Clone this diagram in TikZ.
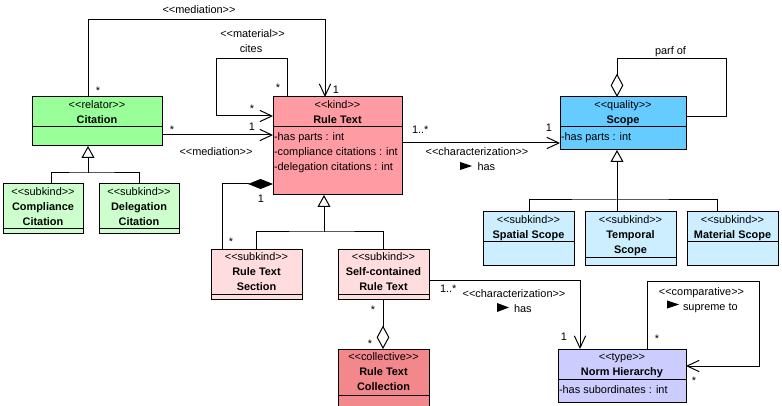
\documentclass[tikz,border=0pt]{standalone}
\usepackage{fontspec}
\newfontfamily\umlfont{Liberation Sans}
\usetikzlibrary{arrows.meta,calc}
\definecolor{citgreen}{HTML}{99FF99}
\definecolor{subgreen}{HTML}{CCFFCC}
\definecolor{rtpink}{HTML}{FF9BA2}
\definecolor{secpink}{HTML}{FFDCDD}
\definecolor{collred}{HTML}{F2878C}
\definecolor{scopeblue}{HTML}{66CCFF}
\definecolor{subblue}{HTML}{CCEEFF}
\definecolor{nhpurple}{HTML}{CCCCFF}
\newcommand\umlbox[6]{%
  \node[umlrect, fill=#6, minimum width={(#4-#2)*0.75pt}, minimum height={(#5-#3)*0.75pt}] (#1) at (#2,#3) {};}
\begin{document}
\begin{tikzpicture}[x=0.75pt,y=-0.75pt,line width=0.75pt,
  every node/.style={font={\fontsize{8.2}{9.8}\umlfont}, inner sep=0pt, outer sep=0pt},
  umlrect/.style={draw, anchor=north west, inner sep=0pt},
  lbl/.style={anchor=base},
  lblw/.style={anchor=base west},
  cname/.style={anchor=base, font={\fontsize{8.2}{9.8}\umlfont\bfseries}},
  attr/.style={anchor=base west},
  assoc/.style={-{Straight Barb[length=9pt,width=8.5pt]}},
  gen/.style={-{Triangle[open,fill=white,length=9pt,width=9.75pt]}},
  compo/.style={{Diamond[length=18.75pt,width=7.5pt]}-},
  aggr/.style={{Diamond[open,fill=white,length=17.5pt,width=9.5pt]}-}]
\useasboundingbox (0,0) rectangle (782,406);
\clip (0,0) rectangle (782,406);
\fill[white] (0,0) rectangle (782,406);
% classes
\umlbox{cit}{32}{97}{162}{146}{citgreen}
\umlbox{comp}{3}{184}{83}{234}{subgreen}
\umlbox{deleg}{99}{184}{179}{234}{subgreen}
\umlbox{rt}{273}{97}{402}{195}{rtpink}
\umlbox{rts}{211}{249}{302}{299}{secpink}
\umlbox{scrt}{338}{249}{429}{299}{secpink}
\umlbox{coll}{338}{349}{429}{420}{collred}
\umlbox{scope}{560}{97}{686}{150}{scopeblue}
\umlbox{sp}{483}{212}{574}{265}{subblue}
\umlbox{tp}{585}{212}{676}{265}{subblue}
\umlbox{mat}{687}{212}{778}{265}{subblue}
\umlbox{nh}{558}{349}{686}{402}{nhpurple}
% separators
\draw ($(cit.north west)+(0,30)$) -- ($(cit.north east)+(0,30)$);
\draw ($(comp.north west)+(0,45)$) -- ($(comp.north east)+(0,45)$);
\draw ($(deleg.north west)+(0,45)$) -- ($(deleg.north east)+(0,45)$);
\draw ($(rt.north west)+(0,30)$) -- ($(rt.north east)+(0,30)$);
\draw ($(rts.north west)+(0,45)$) -- ($(rts.north east)+(0,45)$);
\draw ($(scrt.north west)+(0,45)$) -- ($(scrt.north east)+(0,45)$);
\draw ($(coll.north west)+(0,46)$) -- ($(coll.north east)+(0,46)$);
\draw ($(scope.north west)+(0,30)$) -- ($(scope.north east)+(0,30)$);
\draw ($(sp.north west)+(0,30)$) -- ($(sp.north east)+(0,30)$);
\draw ($(tp.north west)+(0,45)$) -- ($(tp.north east)+(0,45)$);
\draw ($(mat.north west)+(0,30)$) -- ($(mat.north east)+(0,30)$);
\draw ($(nh.north west)+(0,30)$) -- ($(nh.north east)+(0,30)$);
% class texts
\node[lbl] (cit-s) at ($(cit.north)+(0,11.5)$) {<<relator>>};
\node[cname] (cit-n) at ($(cit.north)+(0,26.5)$) {Citation};
\node[lbl] (comp-s) at ($(comp.north)+(0,11.5)$) {<<subkind>>};
\node[cname] (comp-n1) at ($(comp.north)+(0,26.5)$) {Compliance};
\node[cname] (comp-n2) at ($(comp.north)+(0,41.5)$) {Citation};
\node[lbl] (deleg-s) at ($(deleg.north)+(0,11.5)$) {<<subkind>>};
\node[cname] (deleg-n1) at ($(deleg.north)+(0,26.5)$) {Delegation};
\node[cname] (deleg-n2) at ($(deleg.north)+(0,41.5)$) {Citation};
\node[lbl] (rt-s) at ($(rt.north)+(0,11.5)$) {<<kind>>};
\node[cname] (rt-n) at ($(rt.north)+(0,26.5)$) {Rule Text};
\node[attr] (rt-a1) at ($(rt.north west)+(1,43.5)$) {-has parts : int};
\node[attr] (rt-a2) at ($(rt.north west)+(1,58.5)$) {-compliance citations : int};
\node[attr] (rt-a3) at ($(rt.north west)+(1,73.5)$) {-delegation citations : int};
\node[lbl] (rts-s) at ($(rts.north)+(0,11.5)$) {<<subkind>>};
\node[cname] (rts-n1) at ($(rts.north)+(0,26.5)$) {Rule Text};
\node[cname] (rts-n2) at ($(rts.north)+(0,41.5)$) {Section};
\node[lbl] (scrt-s) at ($(scrt.north)+(0,11.5)$) {<<subkind>>};
\node[cname] (scrt-n1) at ($(scrt.north)+(0,26.5)$) {Self-contained};
\node[cname] (scrt-n2) at ($(scrt.north)+(0,41.5)$) {Rule Text};
\node[lbl] (coll-s) at ($(coll.north)+(0,11.5)$) {<<collective>>};
\node[cname] (coll-n1) at ($(coll.north)+(0,26.5)$) {Rule Text};
\node[cname] (coll-n2) at ($(coll.north)+(0,41.5)$) {Collection};
\node[lbl] (scope-s) at ($(scope.north)+(0,11.5)$) {<<quality>>};
\node[cname] (scope-n) at ($(scope.north)+(0,26.5)$) {Scope};
\node[attr] (scope-a1) at ($(scope.north west)+(1,43.5)$) {-has parts : int};
\node[lbl] (sp-s) at ($(sp.north)+(0,11.5)$) {<<subkind>>};
\node[cname] (sp-n) at ($(sp.north)+(0,26.5)$) {Spatial Scope};
\node[lbl] (tp-s) at ($(tp.north)+(0,11.5)$) {<<subkind>>};
\node[cname] (tp-n1) at ($(tp.north)+(0,26.5)$) {Temporal};
\node[cname] (tp-n2) at ($(tp.north)+(0,41.5)$) {Scope};
\node[lbl] (mat-s) at ($(mat.north)+(0,11.5)$) {<<subkind>>};
\node[cname] (mat-n) at ($(mat.north)+(0,26.5)$) {Material Scope};
\node[lbl] (nh-s) at ($(nh.north)+(0,11.5)$) {<<type>>};
\node[cname] (nh-n) at ($(nh.north)+(0,26.5)$) {Norm Hierarchy};
\node[attr] (nh-a1) at ($(nh.north west)+(1,44.5)$) {-has subordinates : int};
% helper coordinates
\coordinate (medtop) at (325,20);
\coordinate (citesTL) at (216,59);
\coordinate (gcit) at (88,173);
\coordinate (grt) at (324,232);
\coordinate (partTR) at (726,59);
\coordinate (gsc) at (617,200);
\coordinate (compTR) at (759,281);
% connectors
\draw[assoc] ($(cit.north west)+(56,0)$) |- (medtop) -- ($(rt.north west)+(52,0)$);
\draw[assoc] ($(rt.north west)+(14,0)$) |- (citesTL) |- ($(rt.north west)+(0,19)$);
\draw[assoc] ($(cit.north east)+(0,38)$) -- ($(rt.north west)+(0,38)$);
\draw[gen] (gcit) -- (cit.south -| gcit);
\draw ($(comp.north west)+(48,0)$) |- (gcit) -| ($(deleg.north west)+(40,0)$);
\draw[compo] ($(rt.north west)+(0,87)$) -| ($(rts.north west)+(11,0)$);
\draw[gen] (grt) -- (rt.south -| grt);
\draw ($(rts.north west)+(45,0)$) |- (grt) -| ($(scrt.north west)+(45,0)$);
\draw[aggr] ($(coll.north west)+(45,0)$) -- ($(scrt.south west)+(45,0)$);
\draw[assoc] ($(scrt.north east)+(0,31)$) -| ($(nh.north west)+(22,0)$);
\draw[assoc] ($(rt.north east)+(0,46)$) -- ($(scope.north west)+(0,46)$);
\draw[aggr] ($(scope.north west)+(57,0)$) |- (partTR) |- ($(scope.north east)+(0,20)$);
\draw[gen] (gsc) -- (scope.south -| gsc);
\draw ($(sp.north west)+(46,0)$) |- (gsc) -| ($(mat.north west)+(30,0)$);
\draw (tp.north -| gsc) -- (gsc);
\draw[assoc] ($(nh.north west)+(89,0)$) |- (compTR) |- ($(nh.north east)+(0,17)$);
% direction triangles
\fill (460,162) -- (472,166) -- (460,170) -- cycle;
\fill (497,303) -- (509,307.5) -- (497,312) -- cycle;
\fill (667,300.5) -- (679,304.5) -- (667,308.5) -- cycle;
% labels
\node[lbl] (l1) at (199,13.5) {<<mediation>>};
\node[lbl] (l2) at (252.5,38) {<<material>>};
\node[lbl] (l3) at (251,53) {cites};
\node[lbl] (l4) at (278,91.5) {*};
\node[lbl] (l5) at (336,94) {1};
\node[lbl] (l6) at (98,95) {*};
\node[lbl] (l7) at (252,113) {*};
\node[lbl] (l8) at (172,134) {*};
\node[lbl] (l9) at (252,131) {1};
\node[lbl] (l10) at (216,156) {<<mediation>>};
\node[lbl] (l11) at (261,203) {1};
\node[lbl] (l12) at (231,245) {*};
\node[lblw] (l13) at (412,134) {1..*};
\node[lbl] (l14) at (549,131.5) {1};
\node[lbl] (l15) at (477,156) {<<characterization>>};
\node[lblw] (l16) at (477.5,170.5) {has};
\node[lbl] (l17) at (670.5,54.5) {parf of};
\node[lbl] (l18) at (373,313) {*};
\node[lbl] (l19) at (370,347) {*};
\node[lblw] (l20) at (440,292) {1..*};
\node[lbl] (l21) at (514,297.5) {<<characterization>>};
\node[lblw] (l22) at (514,312) {has};
\node[lbl] (l23) at (564,340) {1};
\node[lbl] (l24) at (701.5,295.5) {<<comparative>>};
\node[lblw] (l25) at (683,310) {supreme to};
\node[lbl] (l26) at (657,342) {*};
\node[lbl] (l27) at (694,384) {*};
\end{tikzpicture}
\end{document}
